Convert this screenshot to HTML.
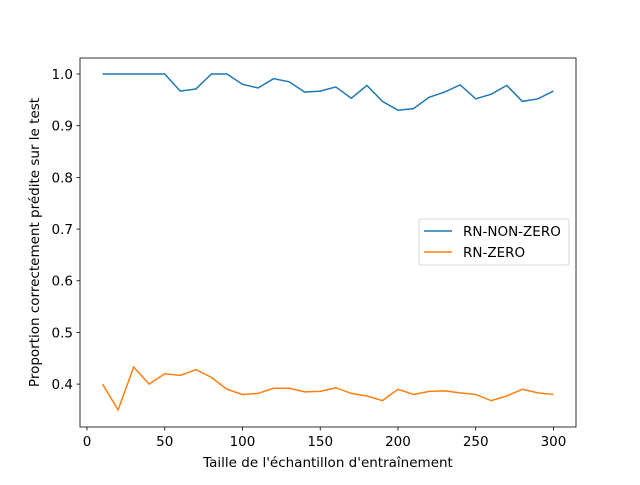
<!DOCTYPE html>
<html><head><meta charset="utf-8"><style>
body{margin:0;background:#fff;}
svg{font-family:"DejaVu Sans","Liberation Sans",sans-serif;}
</style></head><body>
<svg id="chart" width="640" height="480">
<rect width="640" height="480" fill="#fff"/>
<g id="plot"></g>
</svg>
<script>
const xs=[10,20,30,40,50,60,70,80,90,100,110,120,130,140,150,160,170,180,190,200,210,220,230,240,250,260,270,280,290,300];
const nonZero=[1.0,1.0,1.0,1.0,1.0,0.967,0.971,1.0,1.0,0.98,0.973,0.991,0.985,0.965,0.967,0.975,0.953,0.978,0.947,0.93,0.933,0.955,0.965,0.979,0.952,0.961,0.978,0.947,0.952,0.967];
const zero=[0.40,0.35,0.433,0.40,0.42,0.417,0.428,0.413,0.39,0.38,0.382,0.392,0.392,0.385,0.386,0.393,0.382,0.377,0.368,0.39,0.38,0.386,0.387,0.383,0.38,0.368,0.377,0.39,0.383,0.38];
const xTicks=[0,50,100,150,200,250,300];
const yTicks=[0.4,0.5,0.6,0.7,0.8,0.9,1.0];
const L=80,R=576,T=58,B=427;
const x0=-4.5,x1=314.5,y0=0.317,y1=1.031;
const sx=v=>L+(v-x0)/(x1-x0)*(R-L);
const sy=v=>B-(v-y0)/(y1-y0)*(B-T);
const g=document.getElementById('plot');
const NS='http://www.w3.org/2000/svg';
const FS=13.5;
function mk(t,a,txt){const e=document.createElementNS(NS,t);for(const k in a)e.setAttribute(k,a[k]);if(txt!==undefined)e.textContent=txt;g.appendChild(e);return e;}
function line(vals,color,name){
 const p=mk('polyline',{points:vals.map((v,i)=>sx(xs[i])+','+sy(v)).join(' '),fill:'none',stroke:color,'stroke-width':1.5});
 
 
}
line(nonZero,'#1f77b4','series-rn-non-zero');
line(zero,'#ff7f0e','series-rn-zero');
const fr=mk('rect',{x:L,y:T,width:R-L,height:B-T,fill:'none',stroke:'#000','stroke-width':0.8});


xTicks.forEach(v=>{
 mk('line',{x1:sx(v),x2:sx(v),y1:B,y2:B+3.5,stroke:'#000','stroke-width':0.8});
 const t=mk('text',{x:sx(v),y:B+19,'text-anchor':'middle','font-size':FS},String(v));
 
 
});
yTicks.forEach(v=>{
 mk('line',{x1:L-3.5,x2:L,y1:sy(v),y2:sy(v),stroke:'#000','stroke-width':0.8});
 const t=mk('text',{x:L-7,y:sy(v)+5,'text-anchor':'end','font-size':FS},v.toFixed(1));
 
 
});
const xt=mk('text',{x:(L+R)/2,y:467,'text-anchor':'middle','font-size':FS},"Taille de l'échantillon d'entraînement");


const yt=mk('text',{x:0,y:0,'text-anchor':'middle','font-size':FS,transform:`translate(39,${(T+B)/2}) rotate(-90)`},"Proportion correctement prédite sur le test");


const lg=mk('rect',{x:419,y:219,width:150,height:46,rx:2,fill:'#fff','fill-opacity':0.8,stroke:'#ccc','stroke-width':0.8});


[['RN-NON-ZERO','#1f77b4',231],['RN-ZERO','#ff7f0e',252]].forEach(([n,c,y])=>{
 mk('line',{x1:424,x2:452,y1:y,y2:y,stroke:c,'stroke-width':1.5});
 const t=mk('text',{x:463,y:y+5,'font-size':FS},n);
 
 
});
</script>
</body></html>
